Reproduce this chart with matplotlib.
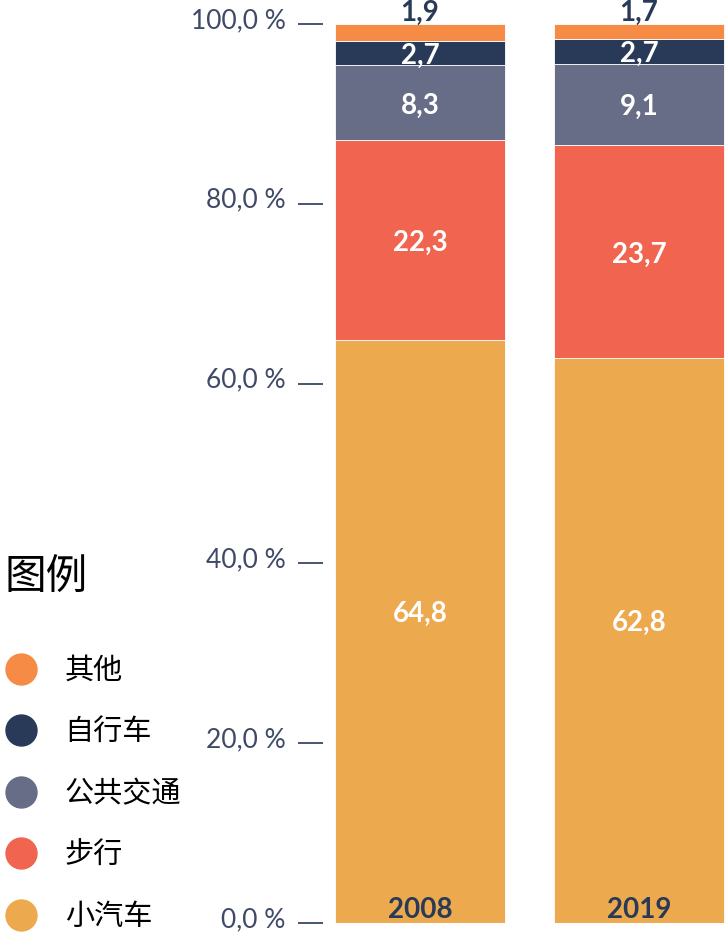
import matplotlib
matplotlib.use("Agg")
import matplotlib.pyplot as plt
from matplotlib.lines import Line2D
from matplotlib.transforms import ScaledTranslation
import numpy as np

plt.rcParams['font.family'] = ['Lato', 'Noto Sans CJK SC', 'DejaVu Sans']

years = ['2008', '2019']
modes = ['小汽车', '步行', '公共交通', '自行车', '其他']
values = {
    '小汽车': [64.8, 62.8],
    '步行': [22.3, 23.7],
    '公共交通': [8.3, 9.1],
    '自行车': [2.7, 2.7],
    '其他': [1.9, 1.7],
}
colors = {
    '小汽车': '#ECA94D',
    '步行': '#F06450',
    '公共交通': '#676C87',
    '自行车': '#283A57',
    '其他': '#F58B45',
}
yticks = [0, 20, 40, 60, 80, 100]
ytick_labels = ['0,0 %', '20,0 %', '40,0 %', '60,0 %', '80,0 %', '100,0 %']

navy = '#283A57'
tickc = '#3E4A66'

fig = plt.figure(figsize=(7.25, 9.35), dpi=100)
ax = fig.add_axes([323 / 725, 12 / 935, 402 / 725, 899 / 935])

x = np.arange(len(years))
width = 0.776
bottom = np.zeros(len(years))
for m in modes:
    v = np.array(values[m])
    ax.bar(x, v, width, bottom=bottom, color=colors[m], edgecolor='white', linewidth=0.6)
    for i in range(len(years)):
        lab = f"{v[i]:.1f}".replace('.', ',')
        if m == '其他':
            ax.text(x[i], 101.2, lab, ha='center', va='center',
                    color=navy, fontsize=20, fontweight='bold', clip_on=False)
        elif m == '小汽车':
            # centred in the part of the segment above the year label
            ax.text(x[i], (4 + v[i]) / 2, lab, ha='center',
                    va='center', color='white', fontsize=20, fontweight='bold')
        else:
            ax.text(x[i], bottom[i] + v[i] / 2 - 0.3, lab, ha='center',
                    va='center', color='white', fontsize=20, fontweight='bold')
    bottom += v

for i, yr in enumerate(years):
    ax.text(x[i], 1.4, yr, ha='center', va='center', color=navy, fontsize=20, fontweight='bold')

ax.set_xlim(-0.443, 1.393)
ax.set_ylim(0, 100)
ax.set_xticks([])
ax.set_yticks(yticks)
ax.set_yticklabels(ytick_labels, color=tickc, fontsize=19)
ax.tick_params(axis='y', direction='out', length=18, width=1.2, color=navy, pad=9)
shift = ScaledTranslation(0, 6 / 100, fig.dpi_scale_trans)
for lbl in ax.get_yticklabels():
    lbl.set_transform(lbl.get_transform() + shift)
for s in ax.spines.values():
    s.set_visible(False)

fig.text(5 / 725, 1 - 578 / 935, '图例', fontsize=30, va='center', ha='left', color='black')

handles = [Line2D([], [], marker='o', linestyle='none', markersize=22.3,
                  markerfacecolor=colors[m], markeredgecolor=colors[m]) for m in modes[::-1]]
leg = fig.legend(handles, modes[::-1], loc='upper left', bbox_to_anchor=(6.4 / 725, 1 - 657 / 935),
                 frameon=False, fontsize=21, labelspacing=1.185, handletextpad=1.0,
                 handlelength=1.0, borderaxespad=0, borderpad=0)

fig.savefig('out.png', dpi=100, facecolor='white')
